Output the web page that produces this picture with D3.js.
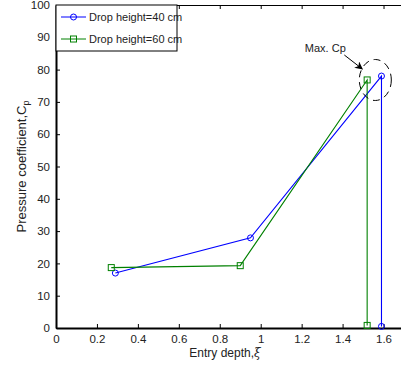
<!DOCTYPE html>
<html>
<head>
<meta charset="utf-8">
<script src="https://cdn.jsdelivr.net/npm/d3@7"></script>
<style>
  html, body { margin: 0; padding: 0; background: #fff; }
  svg { display: block; font-family: "Liberation Sans", Arial, sans-serif; }
</style>
</head>
<body>
<svg id="chart" width="401" height="367"></svg>
<script>
// Entry depth (xi) and pressure coefficient Cp for two drop heights
const depth40 = [0.29, 0.95, 1.59, 1.59];
const cp40    = [17.0, 27.9, 78.0, 0.5];
const depth60 = [0.27, 0.90, 1.52, 1.52];
const cp60    = [18.7, 19.3, 76.8, 0.8];

const seriesNames = ["Drop height=40 cm", "Drop height=60 cm"];
const xTicks = [0, 0.2, 0.4, 0.6, 0.8, 1, 1.2, 1.4, 1.6];
const yTicks = [0, 10, 20, 30, 40, 50, 60, 70, 80, 90, 100];
const xTitle = "Entry depth,";
const yTitle = "Pressure coefficient,C";
const noteText = "Max. Cp";

const svg = d3.select("#chart");
const plotL = 56, plotR = 404, plotT = 5, plotB = 328;

const x = d3.scaleLinear().domain([0, 1.7]).range([plotL, plotR]);
const y = d3.scaleLinear().domain([0, 100]).range([plotB, plotT]);

const series = [
  { name: seriesNames[0], color: "#0000ff", marker: "circle",
    pts: depth40.map((d, i) => [d, cp40[i]]) },
  { name: seriesNames[1], color: "#008000", marker: "square",
    pts: depth60.map((d, i) => [d, cp60[i]]) }
];

// Axes: ticks point inward, like a boxed plot frame
const fmtX = d => (d === 0 || d === 1) ? String(d) : d3.format(".1f")(d);
const xAxis = d3.axisBottom(x).tickValues(xTicks).tickFormat(fmtX)
  .tickSizeInner(-4).tickSizeOuter(0).tickPadding(7);
const yAxis = d3.axisLeft(y).tickValues(yTicks).tickFormat(d3.format("d"))
  .tickSizeInner(-4).tickSizeOuter(0).tickPadding(6);
const topAxis = d3.axisTop(x).tickValues(xTicks).tickFormat("")
  .tickSizeInner(-4).tickSizeOuter(0);

const gx = svg.append("g").attr("transform", `translate(0,${plotB})`).call(xAxis);
const gy = svg.append("g").attr("transform", `translate(${plotL},0)`).call(yAxis);
const gt = svg.append("g").attr("transform", `translate(0,${plotT})`).call(topAxis);

[gx, gy, gt].forEach(g => {
  g.selectAll("text").attr("fill", "#222").style("font-size", "11.5px");
  g.selectAll("line").attr("stroke", "#000");
});
gx.select(".domain").attr("stroke", "#000").attr("stroke-width", 2);
gy.select(".domain").attr("stroke", "#000").attr("stroke-width", 2);
gt.select(".domain").attr("stroke", "#000").attr("stroke-width", 1.2);

// Series lines and markers
const line = d3.line().x(d => x(d[0])).y(d => y(d[1]));
series.forEach(s => {
  svg.append("path").datum(s.pts)
    .attr("d", line).attr("fill", "none")
    .attr("stroke", s.color).attr("stroke-width", 1.1);
  const g = svg.append("g");
  if (s.marker === "circle") {
    g.selectAll("circle").data(s.pts).join("circle")
      .attr("cx", d => x(d[0])).attr("cy", d => y(d[1])).attr("r", 3)
      .attr("fill", "none").attr("stroke", s.color).attr("stroke-width", 1);
  } else {
    g.selectAll("rect").data(s.pts).join("rect")
      .attr("x", d => x(d[0]) - 3).attr("y", d => y(d[1]) - 3)
      .attr("width", 6).attr("height", 6)
      .attr("fill", "none").attr("stroke", s.color).attr("stroke-width", 1);
  }
});

// Dashed ellipse around the peak values, with its arrow note
const peakX = (depth40[2] + depth60[2]) / 2, peakY = (cp40[2] + cp60[2]) / 2;
const ex = x(peakX) + 1, ey = y(peakY) + 2;
svg.append("ellipse")
  .attr("cx", ex).attr("cy", ey).attr("rx", 16).attr("ry", 20.5)
  .attr("fill", "none").attr("stroke", "#000").attr("stroke-width", 1)
  .attr("stroke-dasharray", "7,5");

svg.append("defs").append("marker")
  .attr("id", "arrowhead").attr("viewBox", "0 0 10 10")
  .attr("refX", 9).attr("refY", 5)
  .attr("markerWidth", 8).attr("markerHeight", 8)
  .attr("orient", "auto-start-reverse").attr("markerUnits", "userSpaceOnUse")
  .append("path").attr("d", "M0,0 L10,5 L0,10 L3,5 Z").attr("fill", "#000");

svg.append("line")
  .attr("x1", ex - 31).attr("y1", ey - 25)
  .attr("x2", ex - 13).attr("y2", ey - 11)
  .attr("stroke", "#000").attr("stroke-width", 1)
  .attr("marker-end", "url(#arrowhead)");

svg.append("text")
  .attr("x", ex - 50).attr("y", ey - 28)
  .attr("text-anchor", "middle")
  .style("font-size", "11px").attr("fill", "#222")
  .text(noteText);

// Legend box
const lg = svg.append("g");
lg.append("rect").attr("x", plotL).attr("y", plotT)
  .attr("width", 121).attr("height", 46)
  .attr("fill", "#fff").attr("stroke", "#000").attr("stroke-width", 1);
series.forEach((s, i) => {
  const ly = plotT + 12 + i * 22;
  lg.append("line").attr("x1", plotL + 5).attr("x2", plotL + 30)
    .attr("y1", ly).attr("y2", ly).attr("stroke", s.color).attr("stroke-width", 1);
  if (s.marker === "circle") {
    lg.append("circle").attr("cx", plotL + 17.5).attr("cy", ly).attr("r", 3)
      .attr("fill", "none").attr("stroke", s.color);
  } else {
    lg.append("rect").attr("x", plotL + 14.5).attr("y", ly - 3)
      .attr("width", 6).attr("height", 6)
      .attr("fill", "none").attr("stroke", s.color);
  }
  lg.append("text").attr("x", plotL + 33).attr("y", ly + 4)
    .style("font-size", "11px").attr("fill", "#222").text(s.name);
});

// Axis titles
const xt = svg.append("text")
  .attr("x", 225).attr("y", 357).attr("text-anchor", "middle")
  .style("font-size", "12px").attr("fill", "#222");
xt.append("tspan").text(xTitle);
xt.append("tspan").style("font-family", "'DejaVu Serif', serif").style("font-style", "italic").text("ξ");

const yt = svg.append("text")
  .attr("transform", `translate(26,${(plotT + plotB) / 2}) rotate(-90)`)
  .attr("text-anchor", "middle")
  .style("font-size", "13px").attr("fill", "#222");
yt.append("tspan").text(yTitle);
yt.append("tspan").attr("dy", 3).style("font-size", "9px").text("p");
</script>
</body>
</html>
